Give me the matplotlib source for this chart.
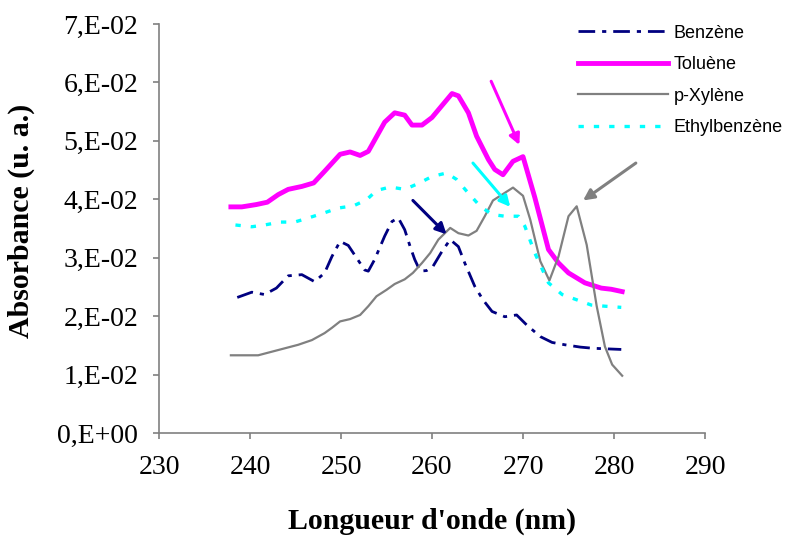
#!/usr/bin/env python3
"""UV absorbance spectra of BTEX compounds (Excel-style chart)."""

import matplotlib

matplotlib.use("Agg")
import matplotlib.pyplot as plt

# --- data ------------------------------------------------------------------
benzene_nm = [238.6, 240.2, 241.6, 242.9, 244.2, 245.7, 247.1, 248.2, 249.0, 249.9,
              250.8, 251.7, 252.6, 253.0, 253.7, 254.8, 255.6, 256.3, 257.0, 257.6,
              258.1, 258.7, 259.4, 260.1, 261.1, 262.0, 262.9, 263.6, 264.7, 265.6,
              266.6, 268.0, 269.3, 270.4, 271.9, 273.2, 274.6, 276.3, 277.7, 280.8]
benzene_abs = [0.0232, 0.0241, 0.0237, 0.0248, 0.0269, 0.0271, 0.0259, 0.0274, 0.0302, 0.0328,
               0.0321, 0.0300, 0.0279, 0.0277, 0.0297, 0.0337, 0.0362, 0.0368, 0.0348, 0.0319,
               0.0297, 0.0277, 0.0278, 0.0285, 0.0311, 0.0331, 0.0319, 0.0291, 0.0251, 0.0228,
               0.0208, 0.0199, 0.0202, 0.0185, 0.0165, 0.0155, 0.0151, 0.0147, 0.0145, 0.0143]

toluene_nm = [237.9, 239.1, 240.7, 241.9, 243.1, 244.2, 245.7, 247.0, 248.2, 249.9,
              251.0, 252.1, 253.0, 254.8, 255.9, 257.0, 257.8, 258.9, 260.0, 262.2,
              262.9, 264.0, 264.9, 266.2, 266.9, 267.8, 268.9, 270.0, 271.3, 272.8,
              273.9, 275.0, 276.8, 278.6, 279.7, 280.9]
toluene_abs = [0.0387, 0.0387, 0.0391, 0.0395, 0.0408, 0.0417, 0.0422, 0.0428, 0.0448, 0.0477,
               0.0481, 0.0475, 0.0482, 0.0532, 0.0548, 0.0544, 0.0527, 0.0527, 0.0540, 0.0581,
               0.0577, 0.0548, 0.0508, 0.0468, 0.0451, 0.0442, 0.0465, 0.0473, 0.0403, 0.0314,
               0.0291, 0.0274, 0.0257, 0.0248, 0.0246, 0.0242]

xylene_nm = [237.9, 239.1, 240.9, 243.1, 245.3, 246.8, 248.2, 249.0, 249.9, 251.0,
             252.1, 253.0, 253.9, 255.0, 255.9, 257.0, 257.9, 258.9, 259.8, 260.7,
             262.0, 262.9, 264.0, 264.9, 265.8, 266.7, 268.0, 268.9, 270.0, 270.8,
             271.9, 272.9, 273.9, 275.0, 275.9, 277.0, 278.1, 279.0, 279.8, 280.9]
xylene_abs = [0.0133, 0.0133, 0.0133, 0.0142, 0.0151, 0.0159, 0.0171, 0.0180, 0.0191, 0.0195,
              0.0202, 0.0217, 0.0234, 0.0245, 0.0255, 0.0263, 0.0274, 0.0291, 0.0308, 0.0331,
              0.0351, 0.0342, 0.0338, 0.0346, 0.0371, 0.0398, 0.0411, 0.0420, 0.0406, 0.0365,
              0.0294, 0.0261, 0.0302, 0.0371, 0.0388, 0.0322, 0.0217, 0.0148, 0.0117, 0.0098]

ethyl_nm = [238.4, 240.2, 241.6, 243.3, 244.9, 246.4, 248.2, 249.7, 251.4, 252.8,
            253.9, 255.4, 257.0, 258.5, 260.0, 261.6, 262.7, 263.8, 265.3, 266.6,
            268.0, 269.5, 270.2, 271.3, 272.8, 274.3, 275.9, 277.5, 279.0, 280.8]
ethyl_abs = [0.0356, 0.0353, 0.0356, 0.0361, 0.0361, 0.0368, 0.0377, 0.0385, 0.0389, 0.0399,
             0.0415, 0.0421, 0.0417, 0.0427, 0.0439, 0.0445, 0.0434, 0.0414, 0.0388, 0.0374,
             0.0371, 0.0371, 0.0354, 0.0308, 0.0257, 0.0237, 0.0228, 0.0219, 0.0217, 0.0215]

# arrows: (tail, head) in data coords
arrow_benzene = ((257.9, 0.0398), (261.6, 0.0340))
arrow_toluene = ((266.5, 0.0602), (269.6, 0.0493))
arrow_ethyl = ((264.5, 0.0462), (268.6, 0.0387))
arrow_xylene = ((282.4, 0.0462), (276.6, 0.0398))

x_ticks = [230, 240, 250, 260, 270, 280, 290]
y_ticks = [0.0, 0.01, 0.02, 0.03, 0.04, 0.05, 0.06, 0.07]
y_ticklabels = ["0,E+00", "1,E-02", "2,E-02", "3,E-02", "4,E-02", "5,E-02", "6,E-02", "7,E-02"]

# --- figure ------------------------------------------------------------------
fig = plt.figure(figsize=(7.88, 5.37), dpi=100)
ax = fig.add_axes([159 / 788, 1 - 433 / 537, 546 / 788, 409 / 537])

ax.plot(benzene_nm, benzene_abs, color="#000080", lw=2.0,
        linestyle=(0, (6, 2.5, 1.5, 2.5)), label="Benzène")
ax.plot(toluene_nm, toluene_abs, color="#ff00ff", lw=3.5, label="Toluène")
ax.plot(xylene_nm, xylene_abs, color="#808080", lw=1.6, label="p-Xylène")
ax.plot(ethyl_nm, ethyl_abs, color="#00ffff", lw=2.4,
        linestyle=(0, (1.6, 3.0)), label="Ethylbenzène")

for (tail, head), col in [(arrow_benzene, "#000080"), (arrow_toluene, "#ff00ff"),
                          (arrow_ethyl, "#00ffff"), (arrow_xylene, "#808080")]:
    ax.annotate("", xy=head, xytext=tail,
                arrowprops=dict(arrowstyle="-|>", color=col, lw=2.2,
                                mutation_scale=16, shrinkA=0, shrinkB=0))

ax.set_xlim(230, 290)
ax.set_ylim(0, 0.07)
ax.set_xticks(x_ticks)
ax.set_yticks(y_ticks)
ax.set_yticklabels(y_ticklabels)

for side in ("top", "right"):
    ax.spines[side].set_visible(False)
for side in ("left", "bottom"):
    ax.spines[side].set_color("#808080")
    ax.spines[side].set_linewidth(1.2)
ax.tick_params(direction="out", length=4, width=1.2, color="#808080", labelsize=20)
ax.tick_params(axis="y", pad=11)
ax.tick_params(axis="x", pad=12)
for lab in ax.get_xticklabels() + ax.get_yticklabels():
    lab.set_family("Liberation Serif")

ax.set_xlabel("Longueur d'onde (nm)", family="Liberation Serif",
              fontweight="bold", fontsize=21.5)
ax.set_ylabel("Absorbance (u. a.)", family="Liberation Serif",
              fontweight="bold", fontsize=21.5)
ax.xaxis.set_label_coords(0.5, -0.183)
ax.yaxis.set_label_coords(-0.227, 0.518)

leg = fig.legend(loc="upper left", bbox_to_anchor=(578 / 788, 1 - 24.5 / 537),
                 frameon=False, borderpad=0, borderaxespad=0,
                 handlelength=5.0, handletextpad=0.28, labelspacing=0.81,
                 prop={"family": "Liberation Sans", "size": 13})

fig.savefig("out.png", dpi=100)
